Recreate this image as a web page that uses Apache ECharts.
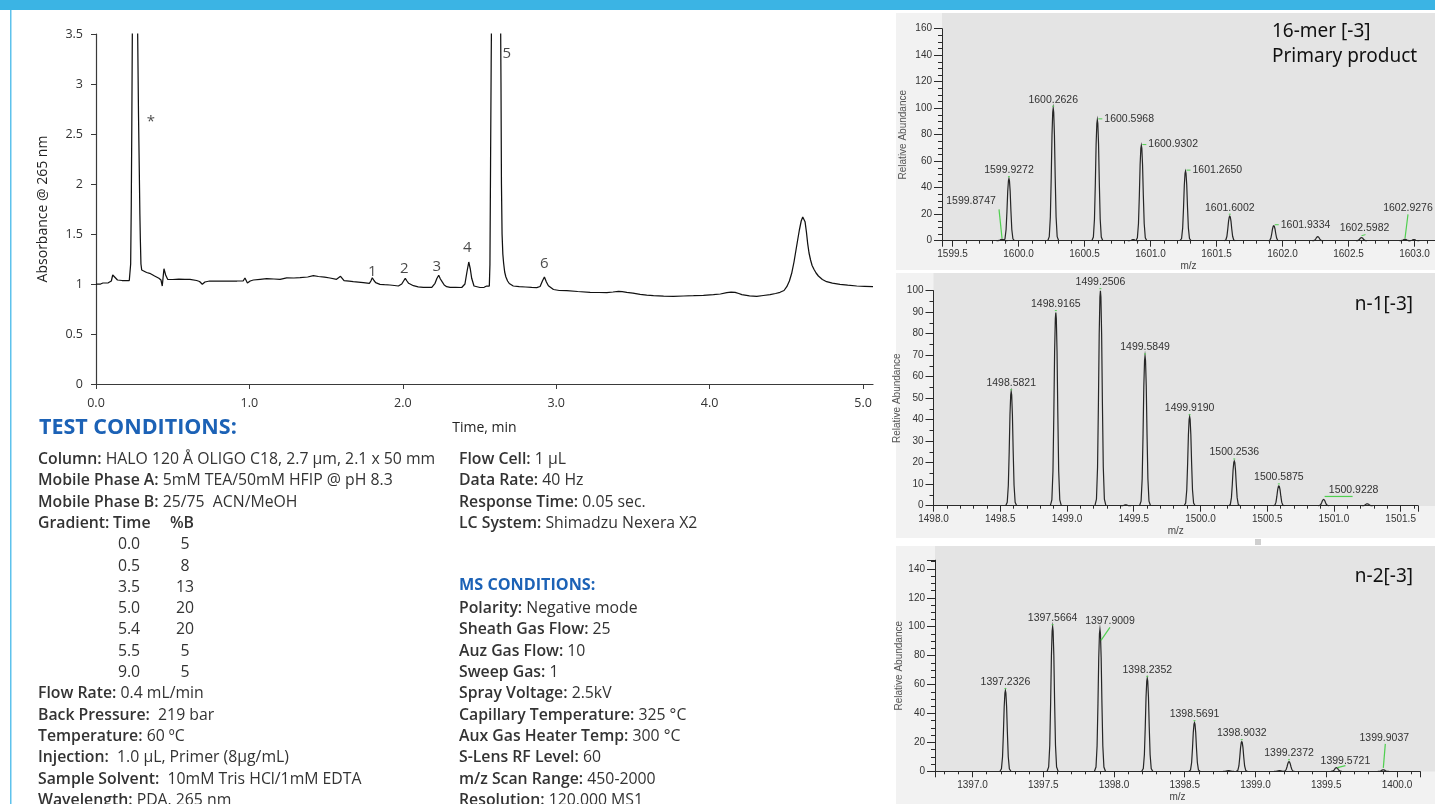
<!DOCTYPE html>
<html>
<head>
<meta charset="utf-8">
<title>Oligonucleotide LC-UV / MS</title>
<script src="https://cdn.jsdelivr.net/npm/echarts@6/dist/echarts.min.js"></script>
<style>
  html, body { margin: 0; padding: 0; background: #ffffff; }
  #chart { width: 1435px; height: 804px; }
</style>
</head>
<body>
<div id="chart"></div>
<script>
// ---------- UV chromatogram (time in min, absorbance at 265 nm) ----------
const chromTrace = [
  [0.000, 1.000], [0.030, 1.000], [0.045, 1.010], [0.080, 1.012], [0.100, 1.030],
  [0.109, 1.090], [0.120, 1.070], [0.140, 1.040], [0.170, 1.035], [0.200, 1.035],
  [0.217, 1.035], [0.2216, 1.050], [0.226, 1.200], [0.230, 1.800], [0.2335, 2.600],
  [0.2368, 3.500], [0.243, 5.000], [0.265, 5.000], [0.2716, 3.500], [0.277, 2.700],
  [0.2825, 2.100], [0.286, 1.700], [0.289, 1.450], [0.293, 1.200], [0.298, 1.140],
  [0.310, 1.125], [0.330, 1.115], [0.350, 1.107], [0.382, 1.080], [0.410, 1.057],
  [0.4235, 1.040], [0.432, 0.980], [0.437, 1.060], [0.443, 1.153], [0.454, 1.090],
  [0.467, 1.047], [0.500, 1.045], [0.540, 1.048], [0.580, 1.046], [0.613, 1.047],
  [0.656, 1.035], [0.675, 1.025], [0.693, 0.997], [0.710, 1.020], [0.740, 1.030],
  [0.800, 1.028], [0.860, 1.030], [0.920, 1.030], [0.960, 1.032], [0.971, 1.060],
  [0.987, 1.010], [1.005, 1.030], [1.026, 1.040], [1.070, 1.047], [1.113, 1.053],
  [1.160, 1.050], [1.200, 1.047], [1.243, 1.062], [1.290, 1.060], [1.330, 1.063],
  [1.380, 1.070], [1.417, 1.083], [1.450, 1.075], [1.490, 1.068], [1.525, 1.060],
  [1.568, 1.047], [1.594, 1.077], [1.617, 1.033], [1.650, 1.028], [1.677, 1.023],
  [1.710, 1.018], [1.743, 1.013], [1.782, 1.007], [1.792, 1.030], [1.801, 1.063],
  [1.812, 1.035], [1.823, 1.013], [1.851, 0.997], [1.880, 0.993], [1.916, 0.990],
  [1.945, 0.985], [1.971, 0.980], [1.993, 1.000], [2.005, 1.030], [2.016, 1.057],
  [2.027, 1.030], [2.038, 1.007], [2.069, 0.983], [2.100, 0.972], [2.134, 0.967],
  [2.160, 0.966], [2.189, 0.967], [2.210, 1.007], [2.222, 1.055], [2.234, 1.087],
  [2.245, 1.050], [2.256, 1.023], [2.270, 0.990], [2.286, 0.973], [2.308, 0.967],
  [2.345, 0.966], [2.384, 0.965], [2.405, 1.000], [2.418, 1.120], [2.430, 1.220],
  [2.440, 1.150], [2.449, 1.057], [2.464, 0.980], [2.503, 0.965], [2.530, 0.967],
  [2.547, 0.980], [2.564, 0.980], [2.568, 1.200], [2.572, 2.200], [2.576, 3.200],
  [2.580, 4.000], [2.590, 5.500], [2.627, 5.500], [2.636, 4.000], [2.640, 3.000],
  [2.643, 2.000], [2.647, 1.500], [2.652, 1.300], [2.657, 1.210], [2.664, 1.120],
  [2.672, 1.070], [2.683, 1.030], [2.694, 1.005], [2.720, 0.980], [2.759, 0.973],
  [2.800, 0.970], [2.840, 0.966], [2.873, 0.963], [2.895, 0.975], [2.910, 1.030],
  [2.923, 1.070], [2.936, 1.020], [2.949, 0.983], [2.982, 0.945], [3.020, 0.935],
  [3.069, 0.933], [3.140, 0.925], [3.221, 0.917], [3.280, 0.915], [3.330, 0.913],
  [3.370, 0.920], [3.406, 0.927], [3.430, 0.924], [3.460, 0.917], [3.500, 0.908],
  [3.547, 0.897], [3.590, 0.888], [3.634, 0.883], [3.700, 0.879], [3.764, 0.877],
  [3.830, 0.880], [3.895, 0.883], [3.960, 0.887], [4.025, 0.893], [4.070, 0.900],
  [4.112, 0.913], [4.140, 0.918], [4.166, 0.917], [4.190, 0.905], [4.210, 0.893],
  [4.260, 0.882], [4.307, 0.877], [4.350, 0.885], [4.394, 0.893], [4.430, 0.905],
  [4.459, 0.917], [4.485, 0.935], [4.503, 0.973], [4.520, 1.030], [4.535, 1.107],
  [4.550, 1.220], [4.563, 1.340], [4.575, 1.450], [4.585, 1.540], [4.597, 1.630],
  [4.607, 1.670], [4.622, 1.623], [4.631, 1.520], [4.639, 1.407], [4.648, 1.310],
  [4.658, 1.240], [4.668, 1.185], [4.680, 1.147], [4.694, 1.110], [4.709, 1.080],
  [4.735, 1.045], [4.763, 1.023], [4.800, 1.008], [4.850, 0.997], [4.900, 0.988],
  [4.959, 0.980], [5.010, 0.977], [5.065, 0.973]
];

// peak annotations on the chromatogram
const peakTagText = ['*', '1', '2', '3', '4', '5', '6'];
const peakTagTime = [0.357, 1.801, 2.010, 2.221, 2.420, 2.677, 2.923];
const peakTagAbs  = [2.62, 1.123, 1.157, 1.173, 1.363, 3.30, 1.20];

const timeTicks = [0, 1, 2, 3, 4, 5];

// ---------- mass spectra (m/z, relative abundance) ----------
// 16-mer, charge state -3
const ms1Mz    = [1599.8747, 1599.9272, 1600.2626, 1600.5968, 1600.9302, 1601.2650, 1601.6002, 1601.9334, 1602.5982, 1602.9276];
const ms1Abund = [1.0, 46.8, 100, 91.2, 71.8, 52.5, 18.5, 11.3, 2.3, 1.0];
const ms1MinorMz    = [1600.869, 1602.2665, 1602.995];
const ms1MinorAbund = [0.8, 3.0, 0.8];

// n-1, charge state -3
const ms2Mz    = [1498.5821, 1498.9165, 1499.2506, 1499.5849, 1499.9190, 1500.2536, 1500.5875, 1500.9228];
const ms2Abund = [53.0, 89.8, 100, 69.6, 41.4, 20.8, 9.2, 2.9];
const ms2MinorMz    = [1499.44, 1501.25];
const ms2MinorAbund = [0.4, 0.9];

// n-2, charge state -3
const ms3Mz    = [1397.2326, 1397.5664, 1397.9009, 1398.2352, 1398.5691, 1398.9032, 1399.2372, 1399.5721, 1399.9037];
const ms3Abund = [55.8, 100, 98.2, 64.3, 33.6, 20.5, 6.6, 2.5, 1.0];
const ms3MinorMz    = [1398.81, 1399.17];
const ms3MinorAbund = [0.5, 0.5];

// gradient table
const gradientTime = [0.0, 0.5, 3.5, 5.0, 5.4, 5.5, 9.0];
const gradientB    = [5, 8, 13, 20, 20, 5, 5];

// ---------- label placement for the centroid annotations (pixel offsets) ----------
const ms1LabelLayout = [
  { mode: 'lead', lx: -3, ly: -30, dx: -31, dy: -38 },
  { mode: 'top' }, { mode: 'top' },
  { mode: 'right' }, { mode: 'right' }, { mode: 'right' },
  { mode: 'top' }, { mode: 'right' },
  { mode: 'dash' },
  { mode: 'lead', lx: 3, ly: -25, dx: 3, dy: -31 }
];
const ms2LabelLayout = [
  { mode: 'top' }, { mode: 'top' }, { mode: 'top' }, { mode: 'top' },
  { mode: 'top' }, { mode: 'top' }, { mode: 'top' },
  { mode: 'lead', sx: 1, sy: -3, lx: 29, ly: -3, dx: 30, dy: -9 }
];
const ms3LabelLayout = [
  { mode: 'top' }, { mode: 'top' },
  { mode: 'lead', sx: 1, sy: 11, lx: 10, ly: -2, dx: 10, dy: -8 },
  { mode: 'top' }, { mode: 'top' }, { mode: 'top' }, { mode: 'top' },
  { mode: 'lead', sx: 1, sy: 0, lx: 9, ly: -2, dx: 9, dy: -7 },
  { mode: 'lead', sx: 0, sy: -2, lx: 2, ly: -26, dx: 1, dy: -32 }
];

// profile of a single isotope peak: [fraction of half width, fraction of height]
const PEAK_SHAPE = [[-1, 0], [-0.72, 0.03], [-0.52, 0.18], [-0.36, 0.48], [-0.22, 0.8],
  [-0.09, 0.97], [0, 1], [0.09, 0.97], [0.22, 0.8], [0.36, 0.48], [0.52, 0.18], [0.72, 0.03], [1, 0]];
const PEAK_HALF_WIDTH = 5.5;
const LEADER_GREEN = '#4fcf4f';
const MS_FONT = '"Liberation Sans", Arial, sans-serif';
const BODY_FONT = '"Open Sans", sans-serif';
const NOTE_SIZE = 15.8;

function peakRenderer(layouts) {
  return function (params, api) {
    const mz = api.value(0);
    const h = api.value(1);
    const top = api.coord([mz, h]);
    const base = api.coord([mz, 0]);
    const H = base[1] - top[1];
    const pts = PEAK_SHAPE.map(p => [base[0] + p[0] * PEAK_HALF_WIDTH, base[1] - p[1] * H]);
    const children = [{
      type: 'polyline', shape: { points: pts },
      style: { stroke: '#262626', lineWidth: 1.2, fill: null }
    }];
    if (layouts) {
      const lay = layouts[params.dataIndex];
      const txt = mz.toFixed(4);
      const px = top[0], py = top[1];
      const tstyle = { text: txt, font: '10.5px ' + MS_FONT, fill: '#333333' };
      if (lay.mode === 'top') {
        children.push({ type: 'line', shape: { x1: px - 1, y1: py - 2, x2: px + 1, y2: py - 2 },
          style: { stroke: LEADER_GREEN, lineWidth: 1 } });
        children.push({ type: 'text', x: px, y: py - 3,
          style: Object.assign({ align: 'center', verticalAlign: 'bottom' }, tstyle) });
      } else if (lay.mode === 'right') {
        children.push({ type: 'line', shape: { x1: px + 1, y1: py - 1, x2: px + 5, y2: py - 1 },
          style: { stroke: LEADER_GREEN, lineWidth: 1 } });
        children.push({ type: 'text', x: px + 7, y: py - 1,
          style: Object.assign({ align: 'left', verticalAlign: 'middle' }, tstyle) });
      } else if (lay.mode === 'dash') {
        children.push({ type: 'line', shape: { x1: px, y1: py - 2, x2: px + 4, y2: py - 3 },
          style: { stroke: LEADER_GREEN, lineWidth: 1 } });
        children.push({ type: 'text', x: px + 3, y: py - 4,
          style: Object.assign({ align: 'center', verticalAlign: 'bottom' }, tstyle) });
      } else {
        const sx = lay.sx || 0, sy = lay.sy === undefined ? -1 : lay.sy;
        children.push({ type: 'line', shape: { x1: px + sx, y1: py + sy, x2: px + lay.lx, y2: py + lay.ly },
          style: { stroke: LEADER_GREEN, lineWidth: 1.2 } });
        children.push({ type: 'text', x: px + lay.dx, y: py + lay.dy,
          style: Object.assign({ align: 'center', verticalAlign: 'middle' }, tstyle) });
      }
    }
    return { type: 'group', children };
  };
}

function pairs(xs, ys) { return xs.map((x, i) => [x, ys[i]]); }

function halfStep(v) {
  return Math.abs(v * 2 - Math.round(v * 2)) < 1e-6 ? v.toFixed(1) : '';
}

function msXAxis(gridIndex, min, max) {
  return {
    type: 'value', gridIndex, min, max, splitNumber: 7,
    axisLine: { lineStyle: { color: '#2a2a2a', width: 1 } },
    axisTick: { length: 6, lineStyle: { color: '#2a2a2a' } },
    minorTick: { show: true, splitNumber: 5, length: 3, lineStyle: { color: '#2a2a2a' } },
    axisLabel: { formatter: halfStep, fontSize: 10, color: '#333', fontFamily: MS_FONT, margin: 9 },
    splitLine: { show: false }, minorSplitLine: { show: false },
    name: 'm/z', nameLocation: 'middle', nameGap: 21,
    nameTextStyle: { fontSize: 10, color: '#444', fontFamily: MS_FONT }
  };
}

function msYAxis(gridIndex, max, interval, minorSplit, nameGap) {
  return {
    type: 'value', gridIndex, min: 0, max, interval,
    axisLine: { show: true, lineStyle: { color: '#2a2a2a', width: 1 } },
    axisTick: { show: true, length: 8, lineStyle: { color: '#2a2a2a' } },
    minorTick: { show: true, splitNumber: minorSplit, length: 4, lineStyle: { color: '#2a2a2a' } },
    axisLabel: {
      formatter: v => (Math.abs(v / interval - Math.round(v / interval)) < 1e-6 ? String(v) : ''),
      fontSize: 10, color: '#333', fontFamily: MS_FONT, margin: 10
    },
    splitLine: { show: false }, minorSplitLine: { show: false },
    name: 'Relative Abundance', nameLocation: 'middle', nameGap,
    nameTextStyle: { fontSize: 10, color: '#555', fontFamily: MS_FONT }
  };
}

function peakSeries(idx, data, layouts) {
  return {
    type: 'custom', xAxisIndex: idx, yAxisIndex: idx, data,
    encode: { x: 0, y: 1 }, renderItem: peakRenderer(layouts), silent: true, z: 3
  };
}

// ---------- text blocks ----------
const ROW0 = 459.5, ROW_STEP = 21.3;
const rowY = i => ROW0 + i * ROW_STEP;

function noteText(x, y, label, value) {
  return {
    type: 'text', x, y, z: 10, silent: true,
    style: {
      text: '{b|' + label + '}{n|' + value + '}',
      rich: {
        b: { fontFamily: 'Open Sans', fontSize: NOTE_SIZE, fontWeight: 600, fill: '#333333' },
        n: { fontFamily: 'Open Sans', fontSize: NOTE_SIZE, fontWeight: 400, fill: '#333333' }
      },
      align: 'left', verticalAlign: 'middle'
    }
  };
}
function plainText(x, y, text, font, fill, align) {
  return { type: 'text', x, y, z: 10, silent: true,
    style: { text, font, fill, align: align || 'left', verticalAlign: 'middle' } };
}

const leftNotesUpper = [
  ['Column:', ' HALO 120 Å OLIGO C18, 2.7 µm, 2.1 x 50 mm'],
  ['Mobile Phase A:', ' 5mM TEA/50mM HFIP @ pH 8.3'],
  ['Mobile Phase B:', ' 25/75  ACN/MeOH']
];
const leftNotesLower = [
  ['Flow Rate:', ' 0.4 mL/min'],
  ['Back Pressure:', '  219 bar'],
  ['Temperature:', ' 60 ºC'],
  ['Injection:', '  1.0 µL, Primer (8µg/mL)'],
  ['Sample Solvent:', '  10mM Tris HCl/1mM EDTA'],
  ['Wavelength:', ' PDA, 265 nm']
];
const lcNotes = [
  ['Flow Cell:', ' 1 µL'],
  ['Data Rate:', ' 40 Hz'],
  ['Response Time:', ' 0.05 sec.'],
  ['LC System:', ' Shimadzu Nexera X2']
];
const msNotes = [
  ['Polarity:', ' Negative mode'],
  ['Sheath Gas Flow:', ' 25'],
  ['Auz Gas Flow:', ' 10'],
  ['Sweep Gas:', ' 1'],
  ['Spray Voltage:', ' 2.5kV'],
  ['Capillary Temperature:', ' 325 °C'],
  ['Aux Gas Heater Temp:', ' 300 °C'],
  ['S-Lens RF Level:', ' 60'],
  ['m/z Scan Range:', ' 450-2000'],
  ['Resolution:', ' 120,000 MS1']
];

const noteFont = (w) => w + ' ' + NOTE_SIZE + 'px "Open Sans", sans-serif';

const graphics = [];
// page furniture
graphics.push({ type: 'rect', z: -20, silent: true, shape: { x: 0, y: 0, width: 1435, height: 10 }, style: { fill: '#3bb4e4' } });
graphics.push({ type: 'rect', z: -20, silent: true, shape: { x: 10, y: 10, width: 1.5, height: 794 }, style: { fill: '#5ec2ec' } });
// spectrum panels: outer frame and plotting area
[[13, 257], [273, 265], [546, 258]].forEach(([y, h]) => {
  graphics.push({ type: 'rect', z: -20, silent: true, shape: { x: 896, y, width: 539, height: h }, style: { fill: '#f2f2f2' } });
});
graphics.push({ type: 'rect', z: -19, silent: true, shape: { x: 942, y: 13, width: 493, height: 228 }, style: { fill: '#e4e4e4' } });
graphics.push({ type: 'rect', z: -19, silent: true, shape: { x: 933.5, y: 273, width: 501.5, height: 233 }, style: { fill: '#e4e4e4' } });
graphics.push({ type: 'rect', z: -19, silent: true, shape: { x: 935, y: 546, width: 500, height: 225.5 }, style: { fill: '#e4e4e4' } });
graphics.push({ type: 'rect', z: -19, silent: true, shape: { x: 1255, y: 539, width: 6, height: 6 }, style: { fill: '#cfcfcf' } });

// spectrum titles
graphics.push(plainText(1272, 32, '16-mer [-3]', '19px "Noto Sans", sans-serif', '#111'));
graphics.push(plainText(1272, 57, 'Primary product', '19px "Noto Sans", sans-serif', '#111'));
graphics.push(plainText(1413, 305, 'n-1[-3]', '19px "Noto Sans", sans-serif', '#111', 'right'));
graphics.push(plainText(1413, 577, 'n-2[-3]', '19px "Noto Sans", sans-serif', '#111', 'right'));

// test conditions
graphics.push(plainText(39, 428, 'TEST CONDITIONS:', 'bold 21.5px "Open Sans", sans-serif', '#1c62b6'));
leftNotesUpper.forEach((r, i) => graphics.push(noteText(38, rowY(i), r[0], r[1])));
graphics.push(noteText(38, rowY(3), 'Gradient:', ''));
graphics.push(plainText(113, rowY(3), 'Time', noteFont(600), '#333', 'left'));
graphics.push(plainText(182, rowY(3), '%B', noteFont(600), '#333', 'center'));
gradientTime.forEach((t, i) => {
  graphics.push(plainText(129, rowY(4 + i), t.toFixed(1), noteFont(400), '#333', 'center'));
  graphics.push(plainText(185, rowY(4 + i), String(gradientB[i]), noteFont(400), '#333', 'center'));
});
leftNotesLower.forEach((r, i) => graphics.push(noteText(38, rowY(11 + i), r[0], r[1])));
lcNotes.forEach((r, i) => graphics.push(noteText(459, rowY(i), r[0], r[1])));
graphics.push(plainText(459, 585.5, 'MS CONDITIONS:', 'bold 16.2px "Open Sans", sans-serif', '#1c62b6'));
msNotes.forEach((r, i) => graphics.push(noteText(459, rowY(7 + i), r[0], r[1])));

const option = {
  animation: false,
  backgroundColor: '#ffffff',
  textStyle: { fontFamily: BODY_FONT },
  grid: [
    { left: 96, top: 34, width: 777, height: 350, outerBoundsMode: 'none' },
    { left: 942, top: 28.7, width: 493, height: 212, outerBoundsMode: 'none' },
    { left: 933.5, top: 290.7, width: 484.5, height: 215, outerBoundsMode: 'none' },
    { left: 935, top: 560.2, width: 485, height: 211.1, outerBoundsMode: 'none' }
  ],
  xAxis: [
    {
      type: 'value', gridIndex: 0, min: 0, max: 5.065, interval: 1,
      axisLine: { lineStyle: { color: '#3a3a3a', width: 1.2 } },
      axisTick: { length: 5, customValues: timeTicks, lineStyle: { color: '#3a3a3a' } },
      axisLabel: { customValues: timeTicks, formatter: v => v.toFixed(1), fontSize: 12.5, color: '#333', margin: 13, fontFamily: BODY_FONT },
      splitLine: { show: false },
      name: 'Time, min', nameLocation: 'middle', nameGap: 37,
      nameTextStyle: { fontSize: 14, color: '#222', fontFamily: BODY_FONT }
    },
    msXAxis(1, 1599.42, 1603.155),
    msXAxis(2, 1498.0, 1501.63),
    msXAxis(3, 1396.735, 1400.163)
  ],
  yAxis: [
    {
      type: 'value', gridIndex: 0, min: 0, max: 3.5, interval: 0.5,
      axisLine: { show: true, lineStyle: { color: '#3a3a3a', width: 1.2 } },
      axisTick: { show: true, length: 5, lineStyle: { color: '#3a3a3a' } },
      axisLabel: { fontSize: 12.5, color: '#333', margin: 13, fontFamily: BODY_FONT },
      splitLine: { show: false },
      name: 'Absorbance @ 265 nm', nameLocation: 'middle', nameGap: 46,
      nameTextStyle: { fontSize: 14, color: '#222', fontFamily: BODY_FONT }
    },
    msYAxis(1, 160, 20, 4, 34),
    msYAxis(2, 100, 10, 2, 31),
    msYAxis(3, 146, 20, 4, 30)
  ],
  series: [
    {
      type: 'line', xAxisIndex: 0, yAxisIndex: 0, data: chromTrace,
      showSymbol: false, clip: true, silent: true,
      lineStyle: { color: '#111', width: 1.25 }
    },
    {
      type: 'scatter', xAxisIndex: 0, yAxisIndex: 0, silent: true,
      data: peakTagTime.map((t, i) => ({ value: [t, peakTagAbs[i]], name: peakTagText[i] })),
      symbolSize: 1, itemStyle: { color: 'rgba(0,0,0,0)' },
      label: { show: true, position: 'inside', formatter: '{b}', fontSize: 15, color: '#1a1a1a', fontFamily: BODY_FONT }
    },
    peakSeries(1, pairs(ms1Mz, ms1Abund), ms1LabelLayout),
    peakSeries(1, pairs(ms1MinorMz, ms1MinorAbund), null),
    peakSeries(2, pairs(ms2Mz, ms2Abund), ms2LabelLayout),
    peakSeries(2, pairs(ms2MinorMz, ms2MinorAbund), null),
    peakSeries(3, pairs(ms3Mz, ms3Abund), ms3LabelLayout),
    peakSeries(3, pairs(ms3MinorMz, ms3MinorAbund), null)
  ],
  graphic: { elements: graphics }
};

const chart = echarts.init(document.getElementById('chart'), null, { renderer: 'canvas' });
chart.setOption(option);
</script>
</body>
</html>
